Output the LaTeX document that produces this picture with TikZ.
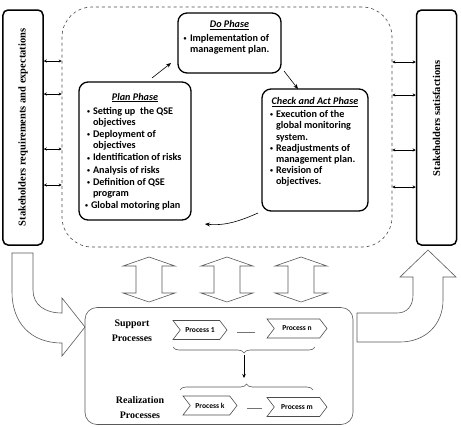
\documentclass[tikz,border=0pt]{standalone}
\usepackage{fontspec}
\setmainfont{Liberation Serif}
\newfontfamily\calfont{Carlito}
\usetikzlibrary{shapes.symbols,decorations.pathreplacing,arrows.meta}
\newlength\itemgap
\setlength\itemgap{1bp}
\newlength\bulind
\setlength\bulind{4bp}
\newlength\txtind
\setlength\txtind{10bp}
\newcommand\sbullet{\hspace*{\bulind}{\fontsize{6}{6}\selectfont\raisebox{0.8bp}{\textbullet}}}
\newcommand\bitem[1]{\par\vspace{\itemgap}\hangindent=\txtind\hangafter=1\noindent\makebox[\txtind][l]{\sbullet}#1\par}
\newcommand\phtitle[1]{{\centering\underline{\textit{#1}}\par}}
\begin{document}
\begin{tikzpicture}[x=1bp,y=-1bp,
  phase/.style={draw, line width=1.3bp, rounded corners=9bp, inner xsep=4bp, inner ysep=0pt,
    font=\calfont\bfseries\fontsize{10.2}{11.2}\selectfont},
  stake/.style={draw, line width=1.5bp, rounded corners=5bp, inner sep=0pt},
  staketext/.style={rotate=90, font=\bfseries\fontsize{10.5}{12}\selectfont},
  pharrow/.style={-{Stealth[length=5bp,width=4bp]}, line width=0.6bp},
  small/.style={{Stealth[length=3bp,width=3bp]}-{Stealth[length=3bp,width=3bp]}, line width=0.5bp},
  hollow/.style={draw=black!65, line width=0.6bp, fill=white},
  proc/.style={signal, signal to=east, signal from=west, signal pointer angle=105,
    draw=black!70, line width=0.6bp,
    minimum width=56bp, minimum height=19bp, inner sep=0pt,
    font=\calfont\bfseries\fontsize{7.6}{8}\selectfont},
  grp/.style={align=center, font=\bfseries\fontsize{10}{15}\selectfont}
]
\useasboundingbox (0,0) rectangle (461,426);

% stakeholder boxes
\node[stake, minimum width=40bp, minimum height=235bp] (req) at (23,127.5) {};
\node[staketext] (reqt) at (req.center) {Stakeholders requirements and expectations};
\node[stake, minimum width=40bp, minimum height=235bp] (sat) at (436.5,127.5) {};
\node[staketext] (satt) at ([yshift=9bp]sat.center) {Stakeholders satisfactions};

% dashed PDCA region
\node[draw=black!70, dashed, line width=0.6bp, rounded corners=30bp,
  minimum width=330bp, minimum height=240bp] (pdca) at (227,127) {};

% small double arrows
\foreach \yy in {61,94,149,185} {
  \draw[small] (req.east |- 0,\yy) -- (pdca.west |- 0,\yy);
}
\foreach \yy in {62,95,150,187} {
  \draw[small] (pdca.east |- 0,\yy) -- (sat.west |- 0,\yy);
}

% Do phase
\node[phase] (do) at (229.5,43) {\parbox[c][60bp][t]{95bp}{\raggedright
  \setlength\bulind{1.5bp}\setlength\txtind{8bp}
  \vspace*{7.5bp}\phtitle{Do Phase}\vspace{2bp}
  \bitem{Implementation of\newline management plan.}}};

% Plan phase
\node[phase] (plan) at (135,151) {\parbox[c][138bp][t]{104bp}{\raggedright
  \vspace*{11bp}\phtitle{Plan Phase}\vspace{2bp}
  \bitem{Setting up \ the QSE\newline objectives}
  \bitem{Deployment of\newline objectives}
  \bitem{Identification of risks}
  \bitem{Analysis of risks}
  \bitem{Definition of QSE\newline program}
  \par\vspace{\itemgap}\noindent\makebox[8bp][l]{\hspace*{2bp}{\fontsize{6}{6}\selectfont\raisebox{0.8bp}{\textbullet}}}Global motoring plan}};

% Check and Act phase
\node[phase] (check) at (315,150) {\parbox[c][122bp][t]{98bp}{\raggedright\setlength\itemgap{0bp}
  \vspace*{8.5bp}\phtitle{Check and Act Phase}\vspace{2bp}
  \bitem{Execution of the\newline global monitoring\newline system.}
  \bitem{Readjustments of\newline management plan.}
  \bitem{Revision of\newline objectives.}}};

% phase arrows
\coordinate (p1) at (152,78);
\coordinate (p2) at (171,63);
\coordinate (d1) at (284,71);
\coordinate (d2) at (298,89);
\coordinate (c1) at (258,213);
\coordinate (c2) at (205,224);
\draw[pharrow] (p1) -- (p2);
\draw[pharrow] (d1) -- (d2);
\draw[pharrow] (c1) .. controls (240,221) and (225,226) .. (c2);

% bottom box
\node[draw=black!65, line width=0.6bp, rounded corners=12bp,
  minimum width=268bp, minimum height=117bp] (bottom) at (219,366) {};

% big hollow arrows
\path[hollow] (12,253) -- (33,253) -- (33,290) .. controls (33,305) and (45,313) .. (62,313)
  -- (62,298) -- (85,327) -- (62,356) -- (62,343) .. controls (30,343) and (12,322) .. (12,292) -- cycle;
\path[hollow] (357,313) -- (397,313) .. controls (407,313) and (413,306) .. (413,295) -- (413,277)
  -- (400,277) -- (428,250) -- (456,277) -- (443,277) -- (443,300)
  .. controls (443,325) and (425,342) .. (400,342) -- (357,342) -- cycle;

% vertical double arrows
\foreach \cx in {149,227,301} {
  \path[hollow] (\cx,257) -- ++(26,9) -- ++(-13,0) -- ++(0,27) -- ++(13,0) -- (\cx,302)
    -- ++(-26,-9) -- ++(13,0) -- ++(0,-27) -- ++(-13,0) -- cycle;
}

% group labels
\node[grp] (sup) at (132,331) {Support\\Processes};
\node[grp] (rea) at (140,408) {Realization\\Processes};

% process chevrons
\node[proc, minimum width=54bp] (pr1) at (200,330) {Process 1};
\node[proc, minimum width=60bp] (prn) at (297,328.5) {Process n};
\node[proc, minimum width=54bp] (prk) at (210,405.5) {Process k};
\node[proc, minimum width=60bp] (prm) at (297,407) {Process m};
\draw[black!55, line width=0.5bp] (237,332) -- (255,332);
\draw[black!55, line width=0.5bp] (247,408) -- (262,408);

% braces
\draw[black!65, line width=0.6bp, decorate, decoration={brace, amplitude=6bp}] (315,347) -- (173,347);
\draw[black!65, line width=0.6bp, decorate, decoration={brace, amplitude=6bp}] (180,390) -- (313,390);
\coordinate (b1) at (244,355);
\coordinate (b2) at (244,378);
\draw[-{Stealth[length=4bp,width=3.5bp]}, line width=0.6bp] (b1) -- (b2);
\end{tikzpicture}
\end{document}
